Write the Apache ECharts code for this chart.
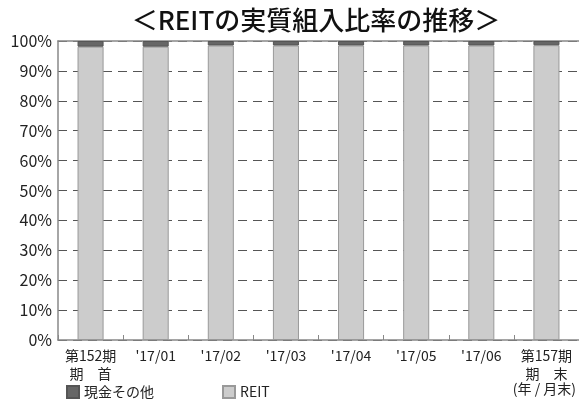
<!DOCTYPE html>
<html><head><meta charset="utf-8">
<script src="https://cdn.jsdelivr.net/npm/echarts@6/dist/echarts.min.js"></script>
<style>html,body{margin:0;padding:0;background:#fff}#c{width:579px;height:400px}</style>
</head><body><div id="c"></div>
<script>
const categories = ['第152期\n期　首', "'17/01", "'17/02", "'17/03", "'17/04", "'17/05", "'17/06", '第157期\n期　末'];
const reitValues = [98.1, 98.1, 98.5, 98.5, 98.5, 98.5, 98.5, 98.6];
const cashValues = [1.9, 1.9, 1.5, 1.5, 1.5, 1.5, 1.5, 1.4];
const yTicks = [0, 10, 20, 30, 40, 50, 60, 70, 80, 90, 100];
const FONT = '"Noto Sans CJK JP", "Noto Sans", sans-serif';
const chart = echarts.init(document.getElementById('c'));
chart.setOption({
  animation: false,
  backgroundColor: '#fff',
  title: {
    text: '＜REITの実質組入比率の推移＞',
    left: 311, top: 2, textAlign: 'center',
    textStyle: { fontFamily: FONT, fontSize: 26, fontWeight: 500, color: '#111' }
  },
  legend: {
    left: 66, top: 385, itemWidth: 12, itemHeight: 12, itemGap: 68,
    icon: 'rect', padding: 0,
    textStyle: { fontFamily: FONT, fontSize: 14, color: '#222' },
    data: ['現金その他', 'REIT']
  },
  graphic: [{
    type: 'text', right: 3, top: 382,
    style: { text: '(年 / 月末)', font: '14px "Noto Sans CJK JP"', fill: '#222' }
  }],
  grid: { left: 58, right: 0, top: 41, bottom: 60 },
  xAxis: [{
    type: 'category', data: categories,
    axisLine: { lineStyle: { color: '#888', width: 1.5 } },
    axisTick: { show: true, inside: true, length: 5, lineStyle: { color: '#888' } },
    axisLabel: { interval: 0, hideOverlap: false, fontFamily: FONT, fontSize: 14, color: '#222', margin: 7, lineHeight: 18 }
  }, {
    type: 'category', data: categories, position: 'top',
    axisLine: { show: true, lineStyle: { color: '#888', width: 1.5 } },
    axisTick: { show: false }, axisLabel: { show: false }
  }],
  yAxis: {
    type: 'value', min: 0, max: 100, interval: 10,
    axisLine: { show: true, lineStyle: { color: '#888', width: 1.5 } },
    axisTick: { show: false },
    axisLabel: {
      fontFamily: FONT, fontSize: 16, color: '#222', margin: 6,
      formatter: v => yTicks.includes(v) ? v + '%' : ''
    },
    splitLine: { show: true, lineStyle: { color: '#555', type: [9, 6], width: 1 } }
  },
  series: [{
    name: 'REIT', type: 'bar', stack: 's', data: reitValues, barWidth: '40%',
    itemStyle: { color: '#cccccc', borderColor: '#999', borderWidth: 1 }
  }, {
    name: '現金その他', type: 'bar', stack: 's', data: cashValues, barWidth: '40%',
    itemStyle: { color: '#666666', borderColor: '#555', borderWidth: 1 }
  }]
});
</script></body></html>
